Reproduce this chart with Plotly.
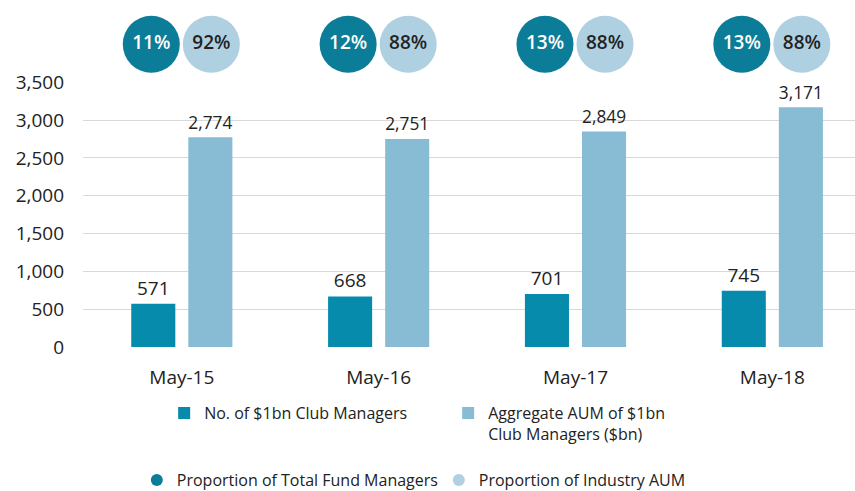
import plotly.graph_objects as go

categories = ["May-15", "May-16", "May-17", "May-18"]
num_managers = [571, 668, 701, 745]
aggregate_aum = [2774, 2751, 2849, 3171]
prop_fund_managers = ["11%", "12%", "13%", "13%"]
prop_industry_aum = ["92%", "88%", "88%", "88%"]

C_DARK_BAR = "#078bad"
C_LIGHT_BAR = "#87bcd4"
C_DARK_CIRC = "#0b7d98"
C_LIGHT_CIRC = "#afd0e1"
FONT = "Open Sans"
TXT = "#222222"

xpos = list(range(len(categories)))
dark_x = [i - 0.155 for i in xpos]
light_x = [i + 0.15 for i in xpos]
mid = [0.5] * len(categories)

fig = go.Figure()

fig.add_trace(go.Bar(
    x=xpos, y=num_managers, name="No. of $1bn Club Managers",
    marker=dict(color=C_DARK_BAR, line=dict(width=0)),
    texttemplate="%{y:,}", textposition="outside",
    textfont=dict(family=FONT, size=19, color=TXT),
    cliponaxis=False, legend="legend",
))
fig.add_trace(go.Bar(
    x=xpos, y=aggregate_aum, name="Aggregate AUM of $1bn<br>Club Managers ($bn)",
    marker=dict(color=C_LIGHT_BAR, line=dict(width=0)),
    texttemplate="%{y:,}", textposition="outside",
    textfont=dict(family=FONT, size=19, color=TXT),
    cliponaxis=False, legend="legend",
))

# circles (legend entries)
fig.add_trace(go.Scatter(
    x=dark_x, y=mid, yaxis="y2", mode="markers",
    name="Proportion of Total Fund Managers",
    marker=dict(size=57, color=C_DARK_CIRC), legend="legend2",
    cliponaxis=False, hoverinfo="skip",
))
fig.add_trace(go.Scatter(
    x=light_x, y=mid, yaxis="y2", mode="markers",
    name="Proportion of Industry AUM",
    marker=dict(size=57, color=C_LIGHT_CIRC), legend="legend2",
    cliponaxis=False, hoverinfo="skip",
))
# circle labels
fig.add_trace(go.Scatter(
    x=dark_x, y=mid, yaxis="y2", mode="text", text=prop_fund_managers,
    textposition="middle center",
    textfont=dict(family=FONT, size=19, color="white", weight=600),
    showlegend=False, cliponaxis=False, hoverinfo="skip",
))
fig.add_trace(go.Scatter(
    x=light_x, y=mid, yaxis="y2", mode="text", text=prop_industry_aum,
    textposition="middle center",
    textfont=dict(family=FONT, size=19, color=TXT, weight=600),
    showlegend=False, cliponaxis=False, hoverinfo="skip",
))

fig.update_layout(
    width=855, height=491,
    margin=dict(l=83, r=0, t=10, b=143.5),
    paper_bgcolor="white", plot_bgcolor="white",
    font=dict(family=FONT, size=17, color=TXT),
    barmode="group", bargap=0.42, bargroupgap=0.228,
    xaxis=dict(
        range=[-0.502, 3.42], tickvals=xpos, ticktext=categories,
        showgrid=False, zeroline=False, showline=False,
        ticks="", ticklabelstandoff=17,
        tickfont=dict(family=FONT, size=19, color=TXT),
        fixedrange=True,
    ),
    yaxis=dict(
        domain=[0, 0.7926], range=[0, 3500],
        tickvals=[0, 500, 1000, 1500, 2000, 2500, 3000, 3500],
        tickformat=",", showgrid=True, gridcolor="#d9d9d9", gridwidth=1,
        zeroline=False, showline=False, ticks="", ticklabelstandoff=18,
        tickfont=dict(family=FONT, size=19, color=TXT),
    ),
    yaxis2=dict(
        domain=[0.813, 1], range=[0, 1], visible=False, anchor="x",
    ),
    legend=dict(
        orientation="h", xref="container", yref="container",
        x=0.192, y=1 - 396 / 491, xanchor="left", yanchor="top",
        entrywidth=239, entrywidthmode="pixels", valign="top",
        font=dict(family=FONT, size=16, color=TXT),
        itemclick=False, itemdoubleclick=False, bgcolor="rgba(0,0,0,0)",
    ),
    legend2=dict(
        orientation="h", xref="container", yref="container",
        x=0.16, y=1 - 463 / 491, xanchor="left", yanchor="top",
        entrywidth=257, entrywidthmode="pixels", itemsizing="constant",
        font=dict(family=FONT, size=16, color=TXT),
        itemclick=False, itemdoubleclick=False, bgcolor="rgba(0,0,0,0)",
    ),
    showlegend=True,
)

fig.write_html(
    "out.html",
    config={"displayModeBar": False},
    post_script="document.body.style.margin='0';document.body.style.padding='0';",
)
